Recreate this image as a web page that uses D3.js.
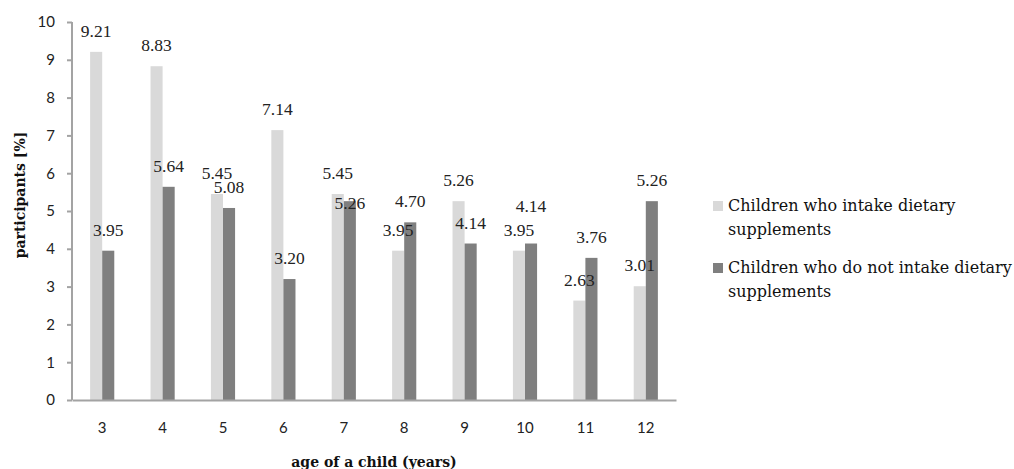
<!DOCTYPE html>
<html>
<head>
<meta charset="utf-8">
<script src="https://cdn.jsdelivr.net/npm/d3@7"></script>
<style>
  html, body { margin: 0; padding: 0; background: #fff; }
  svg { display: block; }
</style>
</head>
<body>
<svg id="chart" width="1014" height="469"></svg>
<script>
// Age groups (years)
const ages = ["3", "4", "5", "6", "7", "8", "9", "10", "11", "12"];
// Share of participants [%]
const withSupplements    = [9.21, 8.83, 5.45, 7.14, 5.45, 3.95, 5.26, 3.95, 2.63, 3.01];
const withoutSupplements = [3.95, 5.64, 5.08, 3.20, 5.26, 4.70, 4.14, 4.14, 3.76, 5.26];
const seriesNames = [
  ["Children who intake dietary", "supplements"],
  ["Children who do not intake dietary", "supplements"]
];
const yTicks = [0, 1, 2, 3, 4, 5, 6, 7, 8, 9, 10];

// Hand-placed value labels (series index, age) -> vertical nudge in px
const labelNudge = { "1|7": 23, "1|10": -17 };

const colors = ["#d9d9d9", "#7f7f7f"];
const axisColor = "#a3a3a3";
const tickFont = "Lato, 'Open Sans', sans-serif";
const serifFont = "'DejaVu Serif', serif";
const labelFont = "'Liberation Serif', 'Times New Roman', serif";

const svg = d3.select("#chart");
const plot = { left: 72, right: 676, top: 22, bottom: 400 };

const x0 = d3.scaleBand().domain(ages)
  .range([plot.left, plot.right]).paddingInner(0.6).paddingOuter(0.3);
const x1 = d3.scaleBand().domain([0, 1]).range([0, x0.bandwidth()]);
const y = d3.scaleLinear().domain([0, 10]).range([plot.bottom, plot.top]);

const series = [withSupplements, withoutSupplements];

// Bars
series.forEach((vals, s) => {
  svg.append("g").selectAll("rect").data(vals).join("rect")
    .attr("x", (d, i) => x0(ages[i]) + x1(s))
    .attr("y", d => y(d))
    .attr("width", x1.bandwidth())
    .attr("height", d => y(0) - y(d))
    .attr("fill", colors[s]);
});

// Value labels above bars
series.forEach((vals, s) => {
  svg.append("g").selectAll("text").data(vals).join("text")
    .attr("x", (d, i) => x0(ages[i]) + x1(s) + x1.bandwidth() / 2)
    .attr("y", (d, i) => y(d) - 15 + (labelNudge[s + "|" + ages[i]] || 0))
    .attr("text-anchor", "middle")
    .attr("font-family", labelFont)
    .attr("font-size", 17.5)
    .attr("fill", "#222")
    .text(d => d.toFixed(2));
});

// Y axis
const yAxis = svg.append("g")
  .attr("transform", `translate(${plot.left},0)`)
  .call(d3.axisLeft(y).tickValues(yTicks).tickSize(5).tickPadding(12).tickFormat(d3.format("d")));
yAxis.select(".domain").attr("stroke", axisColor).attr("stroke-width", 2)
  .attr("d", `M0,${plot.top}V${plot.bottom}`);
yAxis.selectAll(".tick line").attr("stroke", axisColor).attr("stroke-width", 2);
yAxis.selectAll(".tick text")
  .attr("font-family", tickFont).attr("font-size", 15).attr("fill", "#222");

// X axis
const xAxis = svg.append("g")
  .attr("transform", `translate(0,${plot.bottom})`)
  .call(d3.axisBottom(x0).tickSize(0).tickPadding(22));
xAxis.select(".domain").attr("stroke", axisColor).attr("stroke-width", 2);
xAxis.selectAll(".tick text")
  .attr("font-family", tickFont).attr("font-size", 15).attr("fill", "#222");

// Axis titles
svg.append("text")
  .attr("x", (plot.left + plot.right) / 2).attr("y", 467)
  .attr("text-anchor", "middle")
  .attr("font-family", serifFont).attr("font-weight", "bold").attr("font-size", 14)
  .attr("fill", "#111")
  .text("age of a child (years)");

svg.append("text")
  .attr("transform", "translate(25,195) rotate(-90)")
  .attr("text-anchor", "middle")
  .attr("font-family", serifFont).attr("font-weight", "bold").attr("font-size", 14)
  .attr("fill", "#111")
  .text("participants [%]");

// Legend
const legend = svg.append("g");
const legendTop = [206, 268];
seriesNames.forEach((lines, s) => {
  const g = legend.append("g").attr("transform", `translate(713,${legendTop[s]})`);
  g.append("rect").attr("x", 0).attr("y", -5).attr("width", 10).attr("height", 10)
    .attr("fill", colors[s]);
  g.selectAll("text").data(lines).join("text")
    .attr("x", 15)
    .attr("y", (d, i) => 5 + i * 24)
    .attr("font-family", serifFont).attr("font-size", 16)
    .attr("fill", "#111")
    .text(d => d);
});
</script>
</body>
</html>
